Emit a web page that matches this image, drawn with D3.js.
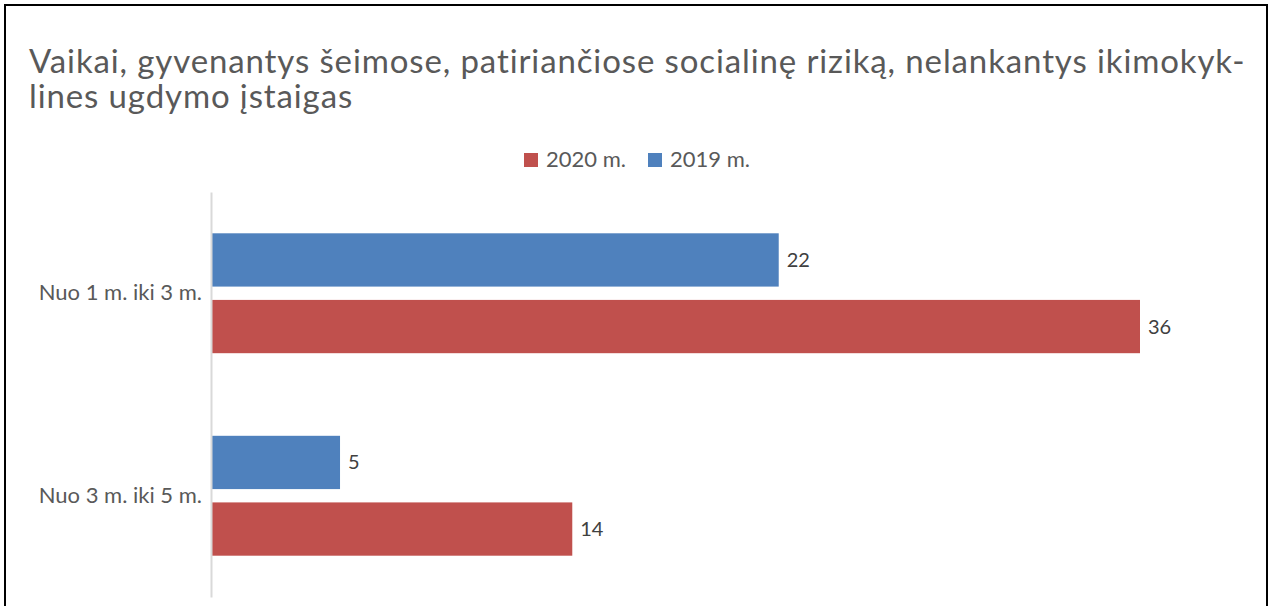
<!DOCTYPE html>
<html>
<head>
<meta charset="utf-8">
<script src="https://cdn.jsdelivr.net/npm/d3@7"></script>
<style>
  body { margin: 0; background: #fff; }
  text { font-family: Lato, "Open Sans", sans-serif; }
</style>
</head>
<body>
<div id="chart"></div>
<script>
// data
var categories = ['Nuo 1 m. iki 3 m.', 'Nuo 3 m. iki 5 m.'];
var seriesNames = ['2019 m.', '2020 m.'];
var values2019 = [22, 5];
var values2020 = [36, 14];
var legendOrder = ['2020 m.', '2019 m.'];
var titleLines = ['Vaikai, gyvenantys šeimose, patiriančiose socialinę riziką, nelankantys ikimokyk-',
                  'lines ugdymo įstaigas'];

var colors = {'2019 m.': '#4f81bd', '2020 m.': '#c0504d'};

var W = 1273, H = 606;
var svg = d3.select('#chart').append('svg')
    .attr('width', W)
    .attr('height', H);

// frame
svg.append('rect')
    .attr('x', 5).attr('y', 5)
    .attr('width', 1262).attr('height', 620)
    .attr('fill', '#fff')
    .attr('stroke', '#000')
    .attr('stroke-width', 2);

// title (one text, one tspan per line)
svg.append('text')
    .attr('class', 'title')
    .attr('font-size', 33)
    .attr('letter-spacing', 0.88)
    .attr('fill', '#595959')
    .selectAll('tspan')
    .data(titleLines)
    .enter()
    .append('tspan')
    .attr('x', 29)
    .attr('y', function(d, i) { return 73 + i * 35; })
    .text(function(d) { return d; });

// legend
var legend = svg.append('g').attr('transform', 'translate(524,153)');
var lg = legend.selectAll('.lg')
    .data(legendOrder)
    .enter()
    .append('g')
    .attr('transform', function(d, i) { return 'translate(' + (i * 124) + ',0)'; });
lg.append('rect')
    .attr('width', 14).attr('height', 14)
    .attr('fill', function(d) { return colors[d]; });
lg.append('text')
    .attr('x', 22).attr('y', 14)
    .attr('font-size', 22)
    .attr('fill', '#595959')
    .text(function(d) { return d; });

// plot
var x0 = 211, plotTop = 192, plotBottom = 597;
var xScale = d3.scaleLinear().domain([0, 36]).range([x0, 1140]);
var yScale = d3.scaleBand().domain(categories).range([plotTop, plotBottom]);
var ySub = d3.scaleBand().domain(seriesNames).range([0, yScale.bandwidth()])
    .paddingInner(0.2).paddingOuter(0.62);

var rows = categories.map(function(c, i) {
    return {cat: c, bars: [
        {name: '2019 m.', value: values2019[i]},
        {name: '2020 m.', value: values2020[i]}
    ]};
});

var g = svg.selectAll('.cat')
    .data(rows)
    .enter()
    .append('g')
    .attr('transform', function(d) { return 'translate(0,' + yScale(d.cat) + ')'; });

g.selectAll('rect')
    .data(function(d) { return d.bars; })
    .enter()
    .append('rect')
    .attr('x', x0)
    .attr('y', function(d) { return ySub(d.name); })
    .attr('width', function(d) { return xScale(d.value) - x0; })
    .attr('height', ySub.bandwidth())
    .attr('fill', function(d) { return colors[d.name]; });

g.selectAll('.val')
    .data(function(d) { return d.bars; })
    .enter()
    .append('text')
    .attr('x', function(d) { return xScale(d.value) + 8; })
    .attr('y', function(d) { return ySub(d.name) + ySub.bandwidth() / 2; })
    .attr('dy', '0.35em')
    .attr('font-size', 20)
    .attr('fill', '#404040')
    .text(function(d) { return d.value; });

// category axis
var yAxis = svg.append('g')
    .attr('transform', 'translate(' + x0 + ',0)')
    .call(d3.axisLeft(yScale).tickSize(0).tickPadding(9));
yAxis.select('.domain').attr('stroke', '#d9d9d9').attr('stroke-width', 2);
yAxis.selectAll('text')
    .attr('font-family', 'Lato, sans-serif')
    .attr('font-size', 22)
    .attr('fill', '#595959');
</script>
</body>
</html>
